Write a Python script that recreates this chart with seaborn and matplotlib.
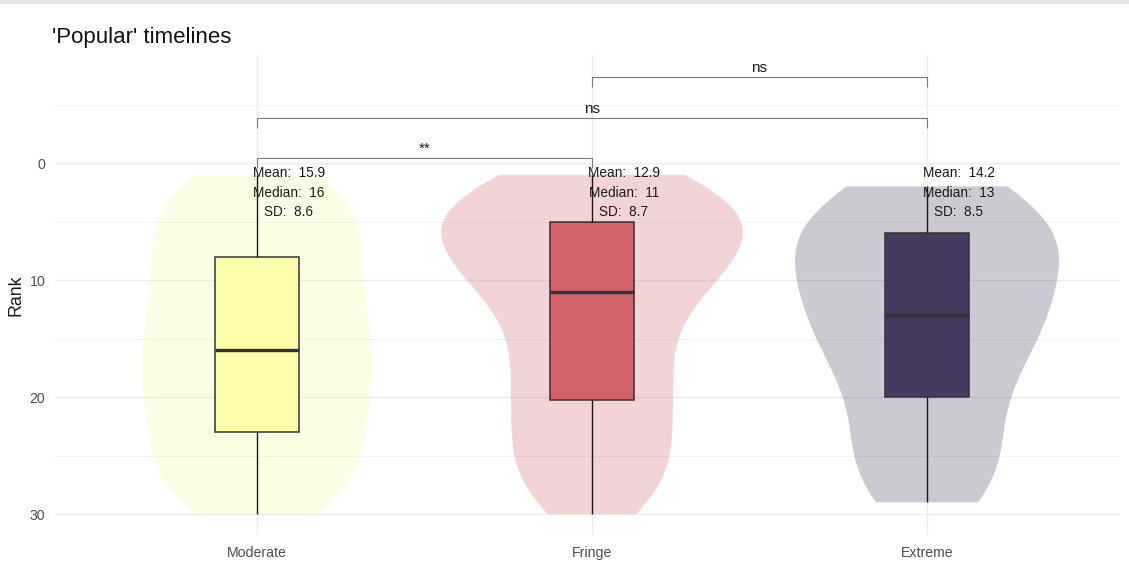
import numpy as np
import pandas as pd
import matplotlib
matplotlib.use("Agg")
import matplotlib.pyplot as plt
import seaborn as sns

# ---------------- data ----------------
categories = ["Moderate", "Fringe", "Extreme"]
ranks = list(range(1, 31))
# estimated number of timelines at each rank 1..30
moderate_counts = [3, 4, 3, 3, 4, 3, 3, 3, 3, 4, 3, 3, 3, 4, 3,
                   4, 4, 3, 4, 3, 4, 3, 3, 3, 4, 3, 3, 4, 3, 3]
fringe_counts = [5, 5, 5, 5, 6, 5, 5, 5, 4, 4, 4, 3, 2, 2, 3,
                 2, 3, 2, 3, 2, 3, 2, 3, 2, 3, 2, 3, 2, 3, 2]
extreme_counts = [0, 3, 5, 5, 6, 7, 3, 4, 4, 4, 4, 4, 5, 4, 4,
                  3, 3, 3, 3, 2, 2, 2, 2, 2, 3, 3, 3, 3, 4, 0]

means = [15.9, 12.9, 14.2]
medians = [16, 11, 13]
sds = [8.6, 8.7, 8.5]

comp_pairs = [(0, 1), (0, 2), (1, 2)]
comp_labels = ["**", "ns", "ns"]

# ---------------- styling ----------------
violin_colors = ["#E9FFA2", "#D3636A", "#463A5E"]
box_colors = ["#FDFEAA", "#D3636A", "#463A5E"]
violin_widths = [0.687, 0.90, 0.788]
violin_bw = [0.9, 0.9, 1.2]
comp_y = [-0.43, -3.85, -7.35]

sns.set_theme(style="white")
plt.rcParams["font.family"] = ["Liberation Sans", "DejaVu Sans"]

counts = {"Moderate": moderate_counts, "Fringe": fringe_counts, "Extreme": extreme_counts}
rows = []
for cat in categories:
    vals = np.repeat(ranks, counts[cat])
    rows.append(pd.DataFrame({"group": cat, "rank": vals.astype(float)}))
df = pd.concat(rows, ignore_index=True)

W, H = 1129, 587
fig = plt.figure(figsize=(W / 100, H / 100), dpi=100)
pl, pr, pt, pb = 55, 1120, 55, 535
ax = fig.add_axes([pl / W, 1 - pb / H, (pr - pl) / W, (pb - pt) / H])

for i, cat in enumerate(categories):
    sub = df[df["group"] == cat]
    sns.violinplot(data=sub, x="group", y="rank", order=categories,
                   width=violin_widths[i], cut=0, inner=None,
                   density_norm="width", color=violin_colors[i],
                   saturation=1, linewidth=0, bw_adjust=violin_bw[i], ax=ax)
for c in ax.collections:
    c.set_alpha(0.27)
    c.set_edgecolor("none")
    c.set_zorder(1)

sns.boxplot(data=df, x="group", y="rank", order=categories, hue="group",
            hue_order=categories, palette=box_colors, width=0.25,
            saturation=1, showfliers=False, showcaps=False, linewidth=1.1,
            linecolor="#333333", legend=False,
            medianprops=dict(linewidth=2.4, color="#333333"),
            whiskerprops=dict(color="#1a1a1a", linewidth=1.0),
            ax=ax, zorder=2)

# stats text
for i in range(len(categories)):
    x = i + 0.095
    ax.text(x, 0.85, f"Mean:  {means[i]}", ha="center", va="center",
            fontsize=9.8, color="#1a1a1a", zorder=5)
    ax.text(x, 2.55, f"Median:  {medians[i]}", ha="center", va="center",
            fontsize=9.8, color="#1a1a1a", zorder=5)
    ax.text(x, 4.2, f"SD:  {sds[i]}", ha="center", va="center",
            fontsize=9.8, color="#1a1a1a", zorder=5)

# significance brackets
tip = 0.85
for (a, b), lab, yy in zip(comp_pairs, comp_labels, comp_y):
    ax.plot([a, a, b, b], [yy + tip, yy, yy, yy + tip], color="#7a7a7a",
            lw=0.8, zorder=4, solid_capstyle="butt")
    ax.text((a + b) / 2, yy - 0.45, lab, ha="center", va="baseline",
            fontsize=11, color="#1a1a1a", zorder=5)

# axes
ax.set_xlim(-(257 - pl) / 335, (pr - 257) / 335)
ax.set_ylim((pb - 163) / 11.7, (pt - 163) / 11.7)
ax.set_yticks([0, 10, 20, 30])
ax.set_yticks([-5, 5, 15, 25], minor=True)
ax.set_xticks(range(len(categories)))
ax.set_xticklabels(categories)
ax.grid(which="major", axis="both", color="#EBEBEB", lw=1.0)
ax.grid(which="minor", axis="y", color="#F2F2F2", lw=0.7)
ax.set_axisbelow(True)
for s in ax.spines.values():
    s.set_visible(False)
ax.tick_params(axis="both", which="both", length=0, labelsize=10.2,
               labelcolor="#4D4D4D")
ax.tick_params(axis="x", pad=8)
ax.tick_params(axis="y", pad=7)
ax.set_xlabel("")
ax.set_ylabel("Rank", fontsize=12.8, color="#1a1a1a")
ax.yaxis.set_label_coords((25 - pl) / (pr - pl), 0.5)

fig.text(52 / W, 1 - 38 / H, "'Popular' timelines", fontsize=16,
         ha="left", va="center", color="#111111")

fig.add_artist(plt.Rectangle((0, 1 - 4 / H), 1, 4 / H, transform=fig.transFigure,
                             color="#E6E6E6", lw=0))

fig.savefig("out.png", dpi=100)
